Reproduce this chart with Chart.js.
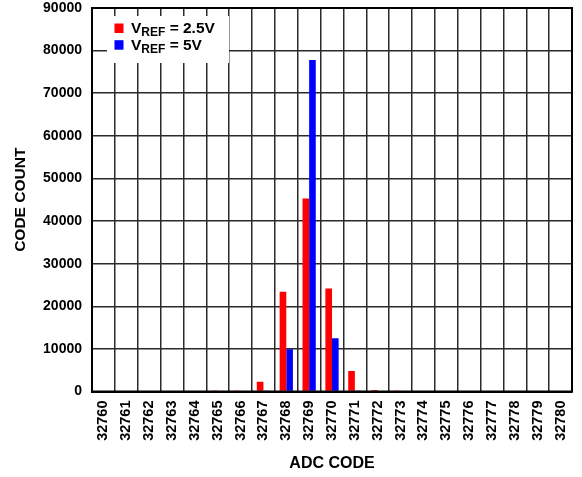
<!DOCTYPE html>
<html>
<head>
<meta charset="utf-8">
<script src="https://cdn.jsdelivr.net/npm/chart.js@4/dist/chart.umd.min.js"></script>
<style>
  html, body { margin: 0; padding: 0; background: #fff; }
  canvas { display: block; }
</style>
</head>
<body>
<canvas id="histo" width="582" height="477"></canvas>
<script>
// ADC output codes (x categories)
const adcCodes = ['32760','32761','32762','32763','32764','32765','32766','32767','32768','32769',
                  '32770','32771','32772','32773','32774','32775','32776','32777','32778','32779','32780'];
// Code counts with a 2.5 V reference
const countVref25 = [0, 0, 0, 0, 0, 60, 80, 2300, 23400, 45300, 24200, 4800, 350, 60, 0, 0, 0, 0, 0, 0, 0];
// Code counts with a 5 V reference
const countVref5  = [0, 0, 0, 0, 0, 0, 0, 80, 9900, 77800, 12500, 60, 0, 0, 0, 0, 0, 0, 0, 0, 0];
// Y axis range and step
const yTicks = { min: 0, max: 90000, step: 10000 };
// Legend entries: main text, subscript, remainder
const legendEntries = [
  { main: 'V', sub: 'REF', rest: ' = 2.5V' },
  { main: 'V', sub: 'REF', rest: ' = 5V' }
];

const FONT = "'Liberation Sans', Arial, Helvetica, sans-serif";
Chart.defaults.font.family = FONT;
Chart.defaults.color = '#000';

// Frame around the plot area
const framePlugin = {
  id: 'frame',
  afterDraw(chart) {
    const { ctx, chartArea: a } = chart;
    ctx.save();
    ctx.strokeStyle = '#000';
    ctx.lineWidth = 2;
    ctx.strokeRect(a.left, a.top, a.right - a.left, a.bottom - a.top);
    ctx.restore();
  }
};

// Boxed legend with subscripted labels, drawn over the grid
const refLegendPlugin = {
  id: 'refLegend',
  afterDraw(chart) {
    const { ctx, chartArea: a } = chart;
    const bx = a.left + 15, by = a.top + 8, bw = 122, bh = 47;
    ctx.save();
    ctx.fillStyle = '#fff';
    ctx.fillRect(bx, by, bw, bh);
    chart.data.datasets.forEach((ds, i) => {
      const e = legendEntries[i];
      const base = by + 17 + i * 16.7;
      ctx.fillStyle = ds.backgroundColor;
      ctx.fillRect(bx + 7.5, base - 9.5, 9, 9.5);
      ctx.fillStyle = '#000';
      ctx.textBaseline = 'alphabetic';
      ctx.textAlign = 'left';
      let x = bx + 24;
      ctx.font = 'bold 15.5px ' + FONT;
      ctx.fillText(e.main, x, base);
      x += ctx.measureText(e.main).width;
      ctx.font = 'bold 12px ' + FONT;
      ctx.fillText(e.sub, x, base + 3);
      x += ctx.measureText(e.sub).width;
      ctx.font = 'bold 15.5px ' + FONT;
      ctx.fillText(e.rest, x, base);
    });
    ctx.restore();
  }
};

new Chart(document.getElementById('histo'), {
  type: 'bar',
  data: {
    labels: adcCodes,
    datasets: [
      { label: 'VREF = 2.5V', data: countVref25, backgroundColor: '#ff0000', borderWidth: 0,
        categoryPercentage: 0.58, barPercentage: 1.0 },
      { label: 'VREF = 5V', data: countVref5, backgroundColor: '#0000ff', borderWidth: 0,
        categoryPercentage: 0.58, barPercentage: 1.0 }
    ]
  },
  options: {
    responsive: false,
    animation: false,
    devicePixelRatio: 1,
    layout: { padding: { top: 8, right: 10, left: 0, bottom: 0 } },
    plugins: {
      legend: { display: false },
      tooltip: { enabled: false }
    },
    scales: {
      x: {
        offset: true,
        grid: { offset: true, color: '#2a2a2a', lineWidth: 1.5, drawTicks: false },
        border: { color: '#000', width: 2 },
        ticks: {
          autoSkip: false, minRotation: 90, maxRotation: 90, padding: 9,
          font: { size: 14.5, weight: 'bold' }
        },
        title: {
          display: true, text: 'ADC CODE',
          font: { size: 16, weight: 'bold' }, padding: { top: 4, bottom: 4 }
        },
        afterFit(scale) {
          scale.height = 85.5;
          scale.paddingLeft = 0;
          scale.paddingRight = 0;
        }
      },
      y: {
        min: yTicks.min, max: yTicks.max,
        grid: { color: '#2a2a2a', lineWidth: 1.5, drawTicks: false },
        border: { color: '#000', width: 2 },
        ticks: {
          stepSize: yTicks.step, padding: 10,
          font: { size: 14, weight: 'bold' },
          callback: (v) => String(v)
        },
        title: {
          display: true, text: 'CODE COUNT',
          font: { size: 15.5, weight: 'bold' }, padding: { top: 11, bottom: 4 }
        },
        afterFit(scale) {
          scale.width = 92;
          scale.paddingTop = 0;
          scale.paddingBottom = 0;
        }
      }
    }
  },
  plugins: [framePlugin, refLegendPlugin]
});
</script>
</body>
</html>
